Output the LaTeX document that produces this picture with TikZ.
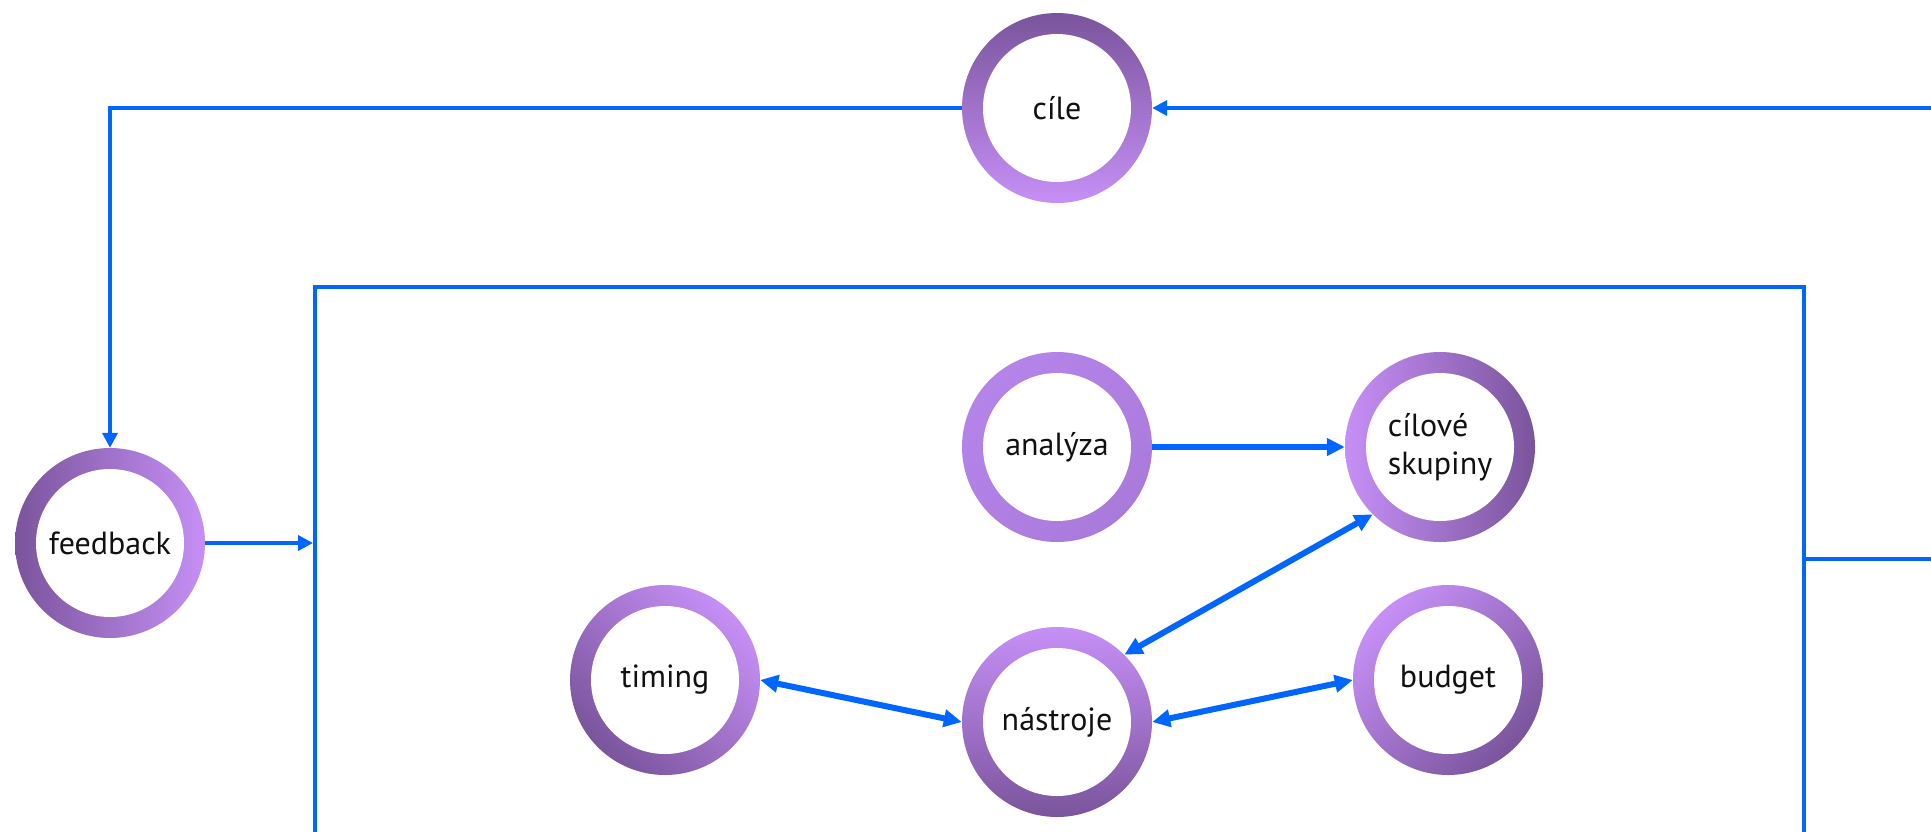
\documentclass[tikz,border=0pt]{standalone}
\usepackage{fontspec}
\setmainfont{PT Sans}
\usetikzlibrary{arrows.meta}
\definecolor{ringdark}{HTML}{7A549C}
\definecolor{ringlight}{HTML}{C68FF6}
\definecolor{ringmidA}{HTML}{B584E9}
\definecolor{ringmidB}{HTML}{AA7ADB}
\definecolor{flow}{HTML}{0066FF}
\definecolor{ink}{HTML}{111111}
\begin{document}
\begin{tikzpicture}[x=1pt,y=1pt,
  ring/.style={circle, minimum size=190pt, inner sep=0pt, text=ink,
    font=\fontsize{32}{38}\selectfont,
    path picture={\fill[white] (path picture bounding box.center) circle (74pt);}},
  link/.style={draw=flow, line width=4.2pt},
  conn/.style={draw=flow, line width=6pt},
  tipout/.style={-{Triangle[length=15pt,width=15pt]}},
  tipone/.style={-{Triangle[length=18pt,width=17pt]}},
  tipboth/.style={{Triangle[length=18pt,width=17pt]}-{Triangle[length=18pt,width=17pt]}}
]
\useasboundingbox (0,0) rectangle (1931,-831);
\clip (0,0) rectangle (1931,-831);

% outer frame around the planning block
\node[draw=flow, line width=4.2pt, anchor=north west, minimum width=1489pt,
      minimum height=700pt, inner sep=0pt] (frame) at (313,-284.5) {};

% ring nodes
\node[ring, top color=ringdark, bottom color=ringlight] (cile) at (1057,-108) {cíle};
\node[ring, left color=ringdark, right color=ringlight] (feedback) at (110,-543) {feedback};
\node[ring, top color=ringmidA, bottom color=ringmidB, shading angle=45] (analyza) at (1057,-447) {analýza};
\node[ring, left color=ringlight, right color=ringdark, align=left] (skupiny) at (1440,-447) {cílové\\skupiny};
\node[ring, top color=ringlight, bottom color=ringdark, shading angle=-45] (timing) at (665,-680) {timing};
\node[ring, top color=ringlight, bottom color=ringdark] (nastroje) at (1057,-722) {nástroje};
\node[ring, top color=ringlight, bottom color=ringdark, shading angle=45] (budget) at (1448,-680) {budget};

% free ends at the right border
\coordinate (inR) at (1931,-108);
\coordinate (outR) at (1931,-559);

% outer loop
\draw[link, tipout] (inR) -- (cile.east);
\draw[link, tipout] (cile.west) -| (feedback.north);
\draw[link, tipout] (feedback.east) -- (feedback.east -| frame.west);
\draw[link] (outR -| frame.east) -- (outR);

% connectors inside the frame
\draw[conn, tipone] (analyza.east) -- (skupiny.west);
\draw[conn, tipboth] (skupiny.225) -- (nastroje.45);
\draw[conn, tipboth] (timing.east) -- (nastroje.west);
\draw[conn, tipboth] (nastroje.east) -- (budget.west);
\end{tikzpicture}
\end{document}
